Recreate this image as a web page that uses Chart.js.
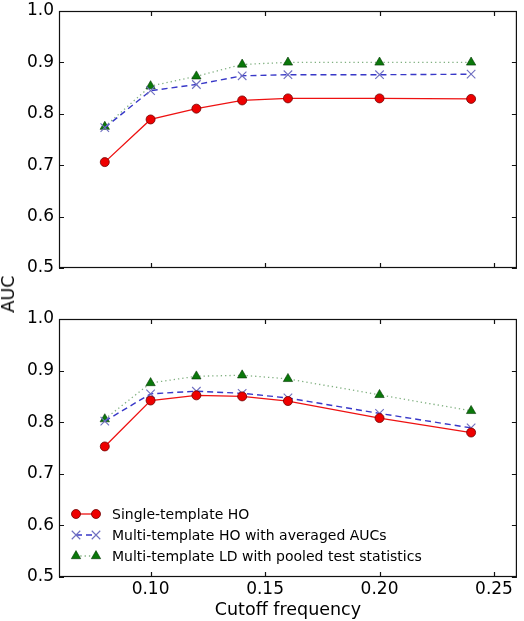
<!DOCTYPE html>
<html>
<head>
<meta charset="utf-8">
<script src="https://cdn.jsdelivr.net/npm/chart.js@4/dist/chart.umd.min.js"></script>
<style>
	body { margin: 0; background: #fff; }
	#wrap { position: relative; width: 524px; height: 621px; }
	canvas { position: absolute; left: 0; }
	#top { top: 0; }
	#bottom { top: 300px; }
	#ylab {
		position: absolute; left: 8px; top: 294px;
		transform: translate(-50%, -50%) rotate(-90deg);
		font: 17.5px "DejaVu Sans"; color: #000; white-space: nowrap;
	}
</style>
</head>
<body>
<div id="wrap">
	<canvas id="top" width="524" height="300"></canvas>
	<canvas id="bottom" width="524" height="321"></canvas>
	<div id="ylab">AUC</div>
</div>
<script>
// cutoff frequencies (x)
const cutoff = [0.08, 0.10, 0.12, 0.14, 0.16, 0.20, 0.24]
const xTicks = [0.10, 0.15, 0.20, 0.25]
const yTicks = [0.5, 0.6, 0.7, 0.8, 0.9, 1.0]

// upper panel
const top_single = [0.706, 0.789, 0.810, 0.826, 0.830, 0.830, 0.829]
const top_multiHO = [0.773, 0.845, 0.857, 0.874, 0.876, 0.876, 0.877]
const top_multiLD = [0.775, 0.854, 0.873, 0.896, 0.900, 0.900, 0.900]

// lower panel
const bot_single = [0.753, 0.842, 0.852, 0.850, 0.841, 0.808, 0.780]
const bot_multiHO = [0.802, 0.855, 0.860, 0.856, 0.847, 0.817, 0.789]
const bot_multiLD = [0.806, 0.876, 0.889, 0.891, 0.884, 0.853, 0.822]

const labels = [
	'Single-template HO',
	'Multi-template HO with averaged AUCs',
	'Multi-template LD with pooled test statistics'
]

const FONT = '"DejaVu Sans", sans-serif'
const pts = vals => cutoff.map((c, i) => ({ x: c, y: vals[i] }))

const styles = [
	{ borderColor: '#ee1111', borderWidth: 1.3, pointStyle: 'circle', pointRadius: 4.5,
		pointBackgroundColor: '#ee0000', pointBorderColor: '#700000', pointBorderWidth: 0.8, borderDash: [] },
	{ borderColor: '#3838c8', borderWidth: 1.4, pointStyle: 'crossRot', pointRadius: 6,
		pointBackgroundColor: '#6f6fc0', pointBorderColor: '#6f6fc0', pointBorderWidth: 1.1, borderDash: [6, 4] },
	{ borderColor: '#80b080', borderWidth: 1.3, pointStyle: 'triangle', pointRadius: 5.4,
		pointBackgroundColor: '#0a780a', pointBorderColor: '#053805', pointBorderWidth: 0.6, borderDash: [1.3, 3] }
]

const makeSets = (a, b, c) => [a, b, c].map((v, i) => Object.assign({
	label: labels[i],
	data: pts(v),
	fill: false,
	tension: 0,
	pointHoverRadius: styles[i].pointRadius
}, styles[i]))

// box + inward ticks like matplotlib
const boxPlugin = {
	id: 'box',
	afterDatasetsDraw(chart) {
		const { ctx, chartArea: a, scales } = chart
		ctx.save()
		ctx.strokeStyle = '#111'
		ctx.lineWidth = 1.2
		ctx.strokeRect(a.left + 0.5, a.top + 0.5, a.right - a.left - 1, a.bottom - a.top - 1)
		ctx.beginPath()
		xTicks.forEach(v => {
			const x = Math.round(scales.x.getPixelForValue(v)) + 0.5
			ctx.moveTo(x, a.top); ctx.lineTo(x, a.top + 5)
			ctx.moveTo(x, a.bottom); ctx.lineTo(x, a.bottom - 5)
		})
		yTicks.forEach(v => {
			const y = Math.round(scales.y.getPixelForValue(v)) + 0.5
			ctx.moveTo(a.left, y); ctx.lineTo(a.left + 5, y)
			ctx.moveTo(a.right, y); ctx.lineTo(a.right - 5, y)
		})
		ctx.stroke()
		ctx.restore()
	}
}

// matplotlib style legend: line with two markers
const legendPlugin = {
	id: 'mplLegend',
	afterDraw(chart) {
		const { ctx } = chart
		const rows = [214, 235, 256]
		ctx.save()
		chart.data.datasets.forEach((ds, i) => {
			const y = rows[i]
			ctx.beginPath()
			ctx.setLineDash(ds.borderDash)
			ctx.strokeStyle = ds.borderColor
			ctx.lineWidth = ds.borderWidth
			ctx.moveTo(76, y); ctx.lineTo(96, y)
			ctx.stroke()
			ctx.setLineDash([])
			;[76, 96].forEach(x => {
				ctx.fillStyle = ds.pointBackgroundColor
				ctx.strokeStyle = ds.pointBorderColor
				ctx.lineWidth = ds.pointBorderWidth
				Chart.helpers.drawPoint(ctx, { pointStyle: ds.pointStyle, radius: ds.pointRadius, borderWidth: ds.pointBorderWidth, rotation: 0 }, x, y)
			})
			ctx.fillStyle = '#000'
			ctx.font = '14px ' + FONT
			ctx.textBaseline = 'middle'
			ctx.textAlign = 'left'
			ctx.fillText(ds.label, 112, y + 1)
		})
		ctx.restore()
	}
}

const yScale = {
	min: 0.5,
	max: 1.0,
	afterBuildTicks: s => { s.ticks = yTicks.map(v => ({ value: v })) },
	// fixed width, and no extra room for the half-height of end labels
	afterFit: s => { s.width = 59; s.paddingTop = 0; s.paddingBottom = 0 },
	grid: { display: false, drawTicks: false },
	border: { display: false },
	ticks: {
		padding: 5,
		color: '#000',
		font: { family: FONT, size: 17 },
		callback: v => v.toFixed(1)
	}
}

const xBase = {
	type: 'linear',
	min: 0.06,
	max: 0.26,
	afterBuildTicks: s => { s.ticks = xTicks.map(v => ({ value: v })) },
	grid: { display: false, drawTicks: false },
	border: { display: false }
}

const common = {
	responsive: false,
	animation: false,
	plugins: { legend: { display: false }, tooltip: { enabled: false } }
}

new Chart(document.getElementById('top'), {
	type: 'line',
	data: { datasets: makeSets(top_single, top_multiHO, top_multiLD) },
	options: Object.assign({}, common, {
		layout: { padding: { top: 11, right: 5, bottom: 32, left: 0 } },
		scales: {
			x: Object.assign({}, xBase, { display: false }),
			y: yScale
		}
	}),
	plugins: [boxPlugin]
})

new Chart(document.getElementById('bottom'), {
	type: 'line',
	data: { datasets: makeSets(bot_single, bot_multiHO, bot_multiLD) },
	options: Object.assign({}, common, {
		layout: { padding: { top: 19, right: 5, bottom: 0, left: 0 } },
		scales: {
			x: Object.assign({}, xBase, {
				afterFit: s => { s.height = 44 },
				ticks: {
					padding: 2,
					color: '#000',
					font: { family: FONT, size: 17 },
					maxRotation: 0,
					callback: v => v.toFixed(2)
				},
				title: {
					display: true,
					text: 'Cutoff frequency',
					color: '#000',
					font: { family: FONT, size: 17.5 },
					padding: { top: 0, bottom: 0 }
				}
			}),
			y: yScale
		}
	}),
	plugins: [boxPlugin, legendPlugin]
})
</script>
</body>
</html>
